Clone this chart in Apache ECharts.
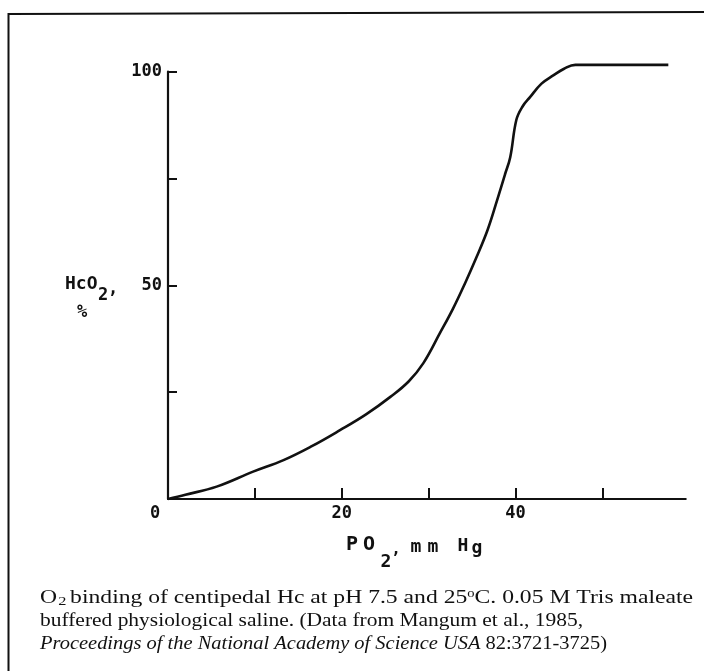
<!DOCTYPE html>
<html>
<head>
<meta charset="utf-8">
<script src="https://cdn.jsdelivr.net/npm/echarts@6/dist/echarts.min.js"></script>
<style>
  html, body { margin: 0; padding: 0; background: #ffffff; }
  #chart { width: 704px; height: 671px; }
</style>
</head>
<body>
<div id="chart"></div>
<script>
// PO2 (mm Hg) values along the curve
const po2Values = [0, 2, 5.6, 9.8, 13.3, 16.5, 19.8, 22.8, 25.6, 27.7, 29.4, 31.3, 32.8, 34.2, 35.5, 36.8, 37.9, 38.8, 39.4, 40.1, 40.8, 41.7, 43, 44.4, 45.6, 46.9, 57.6];
// HcO2 saturation (%) values
const hcO2Values = [0, 1, 2.9, 6.4, 9.1, 12.3, 16.1, 19.8, 23.9, 27.5, 31.8, 38.8, 44.5, 50.5, 56.5, 63, 70, 76, 80, 88.7, 91.8, 94.1, 97.2, 99.2, 100.7, 101.6, 101.6];
// axis ticks and labels
const xTickValues = [10, 20, 30, 40, 50];
const xLabelValues = [0, 20, 40];
const yTickValues = [25, 50, 75, 100];
const yLabelValues = [50, 100];

const seriesData = po2Values.map((x, i) => [x, hcO2Values[i]]);

const labelFont = '"DejaVu Sans Mono", monospace';
const captionFont = '"Liberation Serif", serif';
const capSize = 19.5;

// measure caption lines so each can be stretched to the width it has in the original print
const mctx = document.createElement('canvas').getContext('2d');
function tw(str, size, italic) {
  mctx.font = (italic ? 'italic ' : '') + size + 'px ' + captionFont;
  return mctx.measureText(str).width;
}
const line1W = tw('O', capSize) + tw('2', 13.5) + 4 + tw('binding of centipedal Hc at pH 7.5 and 25', capSize) + tw('o', 12) + tw('C. 0.05 M Tris maleate', capSize);
const line2W = tw('buffered physiological saline. (Data from Mangum et al., 1985,', capSize);
const line3W = tw('Proceedings of the National Academy of Science USA', capSize, true) + tw(' 82:3721-3725)', capSize);
const s1 = 653 / line1W, s2 = 543 / line2W, s3 = 567 / line3W;

const chart = echarts.init(document.getElementById('chart'), null, { renderer: 'canvas' });

function axText(t, x, y, size, align) {
  return { type: 'text', style: { text: t, x: x, y: y, font: 'bold ' + size + 'px ' + labelFont, fill: '#111', textAlign: align || 'center', textVerticalAlign: 'middle' } };
}

chart.setOption({
  backgroundColor: '#ffffff',
  animation: false,
  grid: { left: 168, right: 18.3, top: 71.7, bottom: 172 },
  xAxis: {
    type: 'value',
    min: 0,
    max: 59.6,
    interval: 10,
    splitLine: { show: false },
    axisLine: { show: true, onZero: false, lineStyle: { color: '#111', width: 2.2 } },
    axisTick: { show: true, inside: true, length: 11, customValues: xTickValues, lineStyle: { color: '#111', width: 2 } },
    axisLabel: {
      show: true,
      customValues: xLabelValues,
      margin: 6,
      color: '#111',
      fontFamily: labelFont,
      fontWeight: 'bold',
      fontSize: 17,
      formatter: function (v) { return v === 0 ? '{z|0}' : String(v); },
      rich: { z: { padding: [0, 26, 0, 0], fontFamily: labelFont, fontWeight: 'bold', fontSize: 17, color: '#111' } }
    }
  },
  yAxis: {
    type: 'value',
    min: 0,
    max: 100,
    interval: 25,
    splitLine: { show: false },
    axisLine: { show: true, onZero: false, lineStyle: { color: '#111', width: 2.2 } },
    axisTick: { show: true, inside: true, length: 9, customValues: yTickValues, lineStyle: { color: '#111', width: 2 } },
    axisLabel: {
      show: true,
      customValues: yLabelValues,
      margin: 6,
      color: '#111',
      fontFamily: labelFont,
      fontWeight: 'bold',
      fontSize: 17
    }
  },
  series: [{
    type: 'line',
    data: seriesData,
    showSymbol: false,
    smooth: 0.4,
    clip: false,
    lineStyle: { color: '#111', width: 2.6 }
  }],
  graphic: [
    { type: 'polyline', shape: { points: [[8.5, 671], [8.5, 14], [704, 12]] }, style: { stroke: '#111', lineWidth: 2, fill: null } },
    // y axis title: HcO2, %
    axText('HcO', 65, 284, 18, 'left'),
    axText('2', 98, 296, 17, 'left'),
    axText(',', 108, 290, 17, 'left'),
    axText('%', 82, 313, 17),
    // x axis title: PO2, mm Hg
    axText('P', 352, 545, 20),
    axText('O', 369, 545, 20),
    axText('2', 386, 562, 18),
    axText(',', 396, 550, 16),
    axText('m', 416, 547, 18),
    axText('m', 433, 547, 18),
    axText('H', 463, 546, 18),
    axText('g', 477, 548, 18),
    // caption
    {
      type: 'text',
      x: 40, y: 598, scaleX: s1,
      style: {
        x: 0, y: 0,
        textVerticalAlign: 'middle',
        text: '{n|O}{sub|2}{n|binding of centipedal Hc at pH 7.5 and 25}{sup|o}{n|C. 0.05 M Tris maleate}',
        rich: {
          n: { fontFamily: captionFont, fontSize: capSize, fill: '#111' },
          sub: { fontFamily: captionFont, fontSize: 13.5, fill: '#111', padding: [6, 3, 0, 1] },
          sup: { fontFamily: captionFont, fontSize: 12, fill: '#111', padding: [0, 0, 9, 0] }
        }
      }
    },
    {
      type: 'text',
      x: 40, y: 621, scaleX: s2,
      style: {
        x: 0, y: 0, textVerticalAlign: 'middle',
        text: 'buffered physiological saline. (Data from Mangum et al., 1985,',
        font: capSize + 'px ' + captionFont, fill: '#111'
      }
    },
    {
      type: 'text',
      x: 40, y: 644, scaleX: s3,
      style: {
        x: 0, y: 0, textVerticalAlign: 'middle',
        text: '{i|Proceedings of the National Academy of Science USA}{n| 82:3721-3725)}',
        rich: {
          i: { fontFamily: captionFont, fontSize: capSize, fontStyle: 'italic', fill: '#111' },
          n: { fontFamily: captionFont, fontSize: capSize, fill: '#111' }
        }
      }
    }
  ]
});
</script>
</body>
</html>
